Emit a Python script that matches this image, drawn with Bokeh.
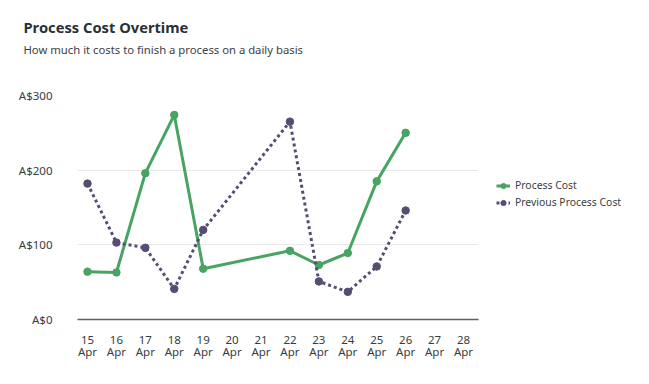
from bokeh.plotting import figure
from bokeh.models import (ColumnDataSource, FixedTicker, Legend, LegendItem,
                          Title)
from bokeh.embed import file_html
from bokeh.resources import INLINE

# ---- data ----
days = [15, 16, 17, 18, 19, 22, 23, 24, 25, 26]
process_cost = [64, 63, 196, 274, 68, 92, 73, 89, 185, 250]
previous_cost = [182, 103, 96, 41, 120, 265, 51, 37, 71, 146]
tick_days = [15, 16, 17, 18, 19, 20, 21, 22, 23, 24, 25, 26, 27, 28]
tick_labels = [f"{d}\nApr" for d in tick_days]
y_ticks = [0, 100, 200, 300]
y_labels = ["A$0", "A$100", "A$200", "A$300"]
series_names = ["Process Cost", "Previous Process Cost"]
chart_title = "Process Cost Overtime"
chart_subtitle = "How much it costs to finish a process on a daily basis"

GREEN = "#48a462"
PURPLE = "#574c72"
FONT = "Noto Sans"

p = figure(width=649, height=384, output_backend="svg", toolbar_location=None,
           x_range=(14.654, 28.519), y_range=(0, 300), title=None,
           frame_width=401, frame_height=224,
           min_border_left=77, min_border_right=171, min_border_top=95,
           min_border_bottom=65)
p.outline_line_color = None
p.background_fill_color = "white"
p.border_fill_color = "white"

src = ColumnDataSource(dict(x=days, a=process_cost, b=previous_cost))
l1 = p.line("x", "a", source=src, line_color=GREEN, line_width=3)
s1 = p.scatter("x", "a", source=src, size=7.5, fill_color=GREEN, line_color=GREEN)
l2 = p.line("x", "b", source=src, line_color=PURPLE, line_width=3,
            line_dash="3 3")
s2 = p.scatter("x", "b", source=src, size=7.5, fill_color=PURPLE, line_color=PURPLE)

# axes
p.xaxis.ticker = FixedTicker(ticks=tick_days)
p.xaxis.major_label_overrides = {d: lab for d, lab in zip(tick_days, tick_labels)}
p.xaxis.major_tick_line_color = None
p.xaxis.minor_tick_line_color = None
p.xaxis.axis_line_color = "#5b5f6e"
p.xaxis.axis_line_width = 1.5
p.xaxis.major_label_standoff = 6
p.xaxis.major_label_text_font = FONT
p.xaxis.major_label_text_font_size = "11.5px"
p.xaxis.major_label_text_line_height = 0.85
p.xaxis.major_label_text_color = "#373d3f"

p.yaxis.ticker = FixedTicker(ticks=y_ticks)
p.yaxis.major_label_overrides = {t: lab for t, lab in zip(y_ticks, y_labels)}
p.yaxis.axis_line_color = None
p.yaxis.major_tick_line_color = None
p.yaxis.minor_tick_line_color = None
p.yaxis.major_label_standoff = 19
p.yaxis.major_label_text_font = FONT
p.yaxis.major_label_text_font_size = "11.5px"
p.yaxis.major_label_text_color = "#373d3f"

p.xgrid.grid_line_color = None
p.ygrid.grid_line_color = "#e8e8ea"
p.ygrid.ticker = FixedTicker(ticks=[100, 200, 300])

# titles (first added sits closest to the plot frame)
p.add_layout(Title(text=" ", text_font=FONT, text_font_size="1px",
                   standoff=33), "above")
p.add_layout(Title(text=chart_subtitle, text_font=FONT, text_font_size="11.3px",
                   text_font_style="normal", text_color="#3c4147",
                   standoff=6, offset=-54), "above")
p.add_layout(Title(text=chart_title, text_font=FONT, text_font_size="14.7px",
                   text_font_style="bold", text_color="#263238",
                   standoff=0, offset=-54), "above")
p.add_layout(Title(text=" ", text_font=FONT, text_font_size="1px",
                   standoff=9), "above")

# legend
legend = Legend(items=[LegendItem(label=series_names[0], renderers=[l1, s1]),
                       LegendItem(label=series_names[1], renderers=[l2, s2])],
                location=(18, 110), border_line_color=None,
                background_fill_alpha=0, label_text_font=FONT,
                label_text_font_size="10.4px", label_text_color="#373d3f",
                glyph_width=14, glyph_height=13, label_height=13, spacing=3,
                padding=0, margin=0, label_standoff=5)
p.add_layout(legend, "right")

open("out.html", "w").write(file_html(p, INLINE))
